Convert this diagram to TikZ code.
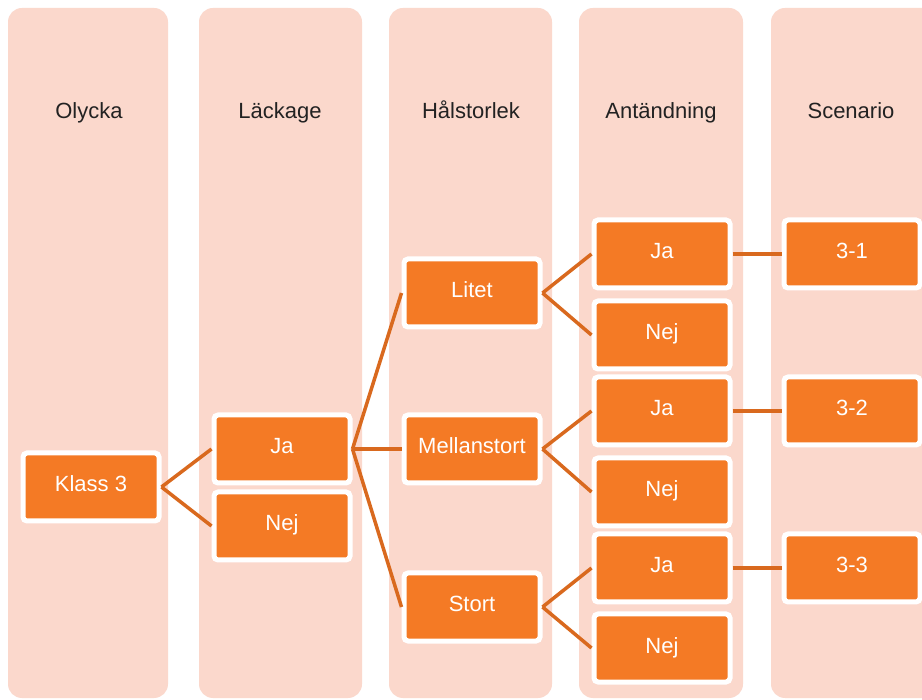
\documentclass[tikz,border=0pt]{standalone}
\usepackage{fontspec}
\setmainfont{Liberation Sans}
\definecolor{colbg}{HTML}{FBD8CC}
\definecolor{nodeor}{HTML}{F47A25}
\definecolor{linkor}{HTML}{D9691E}
\definecolor{headtxt}{HTML}{222222}
\begin{document}
\begin{tikzpicture}[x=1pt,y=-1pt,
  colbox/.style={fill=colbg,draw=none,rounded corners=14pt},
  headtext/.style={text=headtxt,font=\fontsize{22}{26}\selectfont,inner sep=0pt,anchor=base},
  stepbox/.style={fill=nodeor,draw=white,line width=5pt,rounded corners=4pt,
    minimum width=136pt,minimum height=68pt,inner sep=0pt,text=white,
    text height=16pt,text depth=6pt,
    font=\fontsize{22}{26}\selectfont},
  link/.style={draw=linkor,line width=3.5pt}]
\useasboundingbox (0,0) rectangle (922,700);
\fill[white] (0,0) rectangle (922,700);
% columns
\fill[colbox] (8,8) rectangle (168,698);
\fill[colbox] (199,8) rectangle (362,698);
\fill[colbox] (389,8) rectangle (552,698);
\fill[colbox] (579,8) rectangle (743,698);
\fill[colbox] (771,8) rectangle (950,698);
% headers
\node[headtext] (h1) at (89,119) {Olycka};
\node[headtext] (h2) at (280,119) {Läckage};
\node[headtext] (h3) at (471,119) {Hålstorlek};
\node[headtext] (h4) at (661,119) {Antändning};
\node[headtext] (h5) at (851,119) {Scenario};
% nodes
\node[stepbox] (klass) at (91,487) {Klass 3};
\node[stepbox] (jaL) at (282,449) {Ja};
\node[stepbox] (nejL) at (282,526) {Nej};
\node[stepbox] (litet) at (472,293) {Litet};
\node[stepbox] (mellan) at (472,449) {Mellanstort};
\node[stepbox] (stort) at (472,607) {Stort};
\node[stepbox] (ja1) at (662,254) {Ja};
\node[stepbox] (nej1) at (662,335) {Nej};
\node[stepbox] (ja2) at (662,411) {Ja};
\node[stepbox] (nej2) at (662,492) {Nej};
\node[stepbox] (ja3) at (662,568) {Ja};
\node[stepbox] (nej3) at (662,648) {Nej};
\node[stepbox] (s1) at (852,254) {3-1};
\node[stepbox] (s2) at (852,411) {3-2};
\node[stepbox] (s3) at (852,568) {3-3};
% connectors
\draw[link] (klass.east) -- (jaL.west);
\draw[link] (klass.east) -- (nejL.west);
\draw[link] (jaL.east) -- (litet.west);
\draw[link] (jaL.east) -- (mellan.west);
\draw[link] (jaL.east) -- (stort.west);
\draw[link] (litet.east) -- (ja1.west);
\draw[link] (litet.east) -- (nej1.west);
\draw[link] (mellan.east) -- (ja2.west);
\draw[link] (mellan.east) -- (nej2.west);
\draw[link] (stort.east) -- (ja3.west);
\draw[link] (stort.east) -- (nej3.west);
\draw[link] (ja1.east) -- (s1.west);
\draw[link] (ja2.east) -- (s2.west);
\draw[link] (ja3.east) -- (s3.west);
\end{tikzpicture}
\end{document}
